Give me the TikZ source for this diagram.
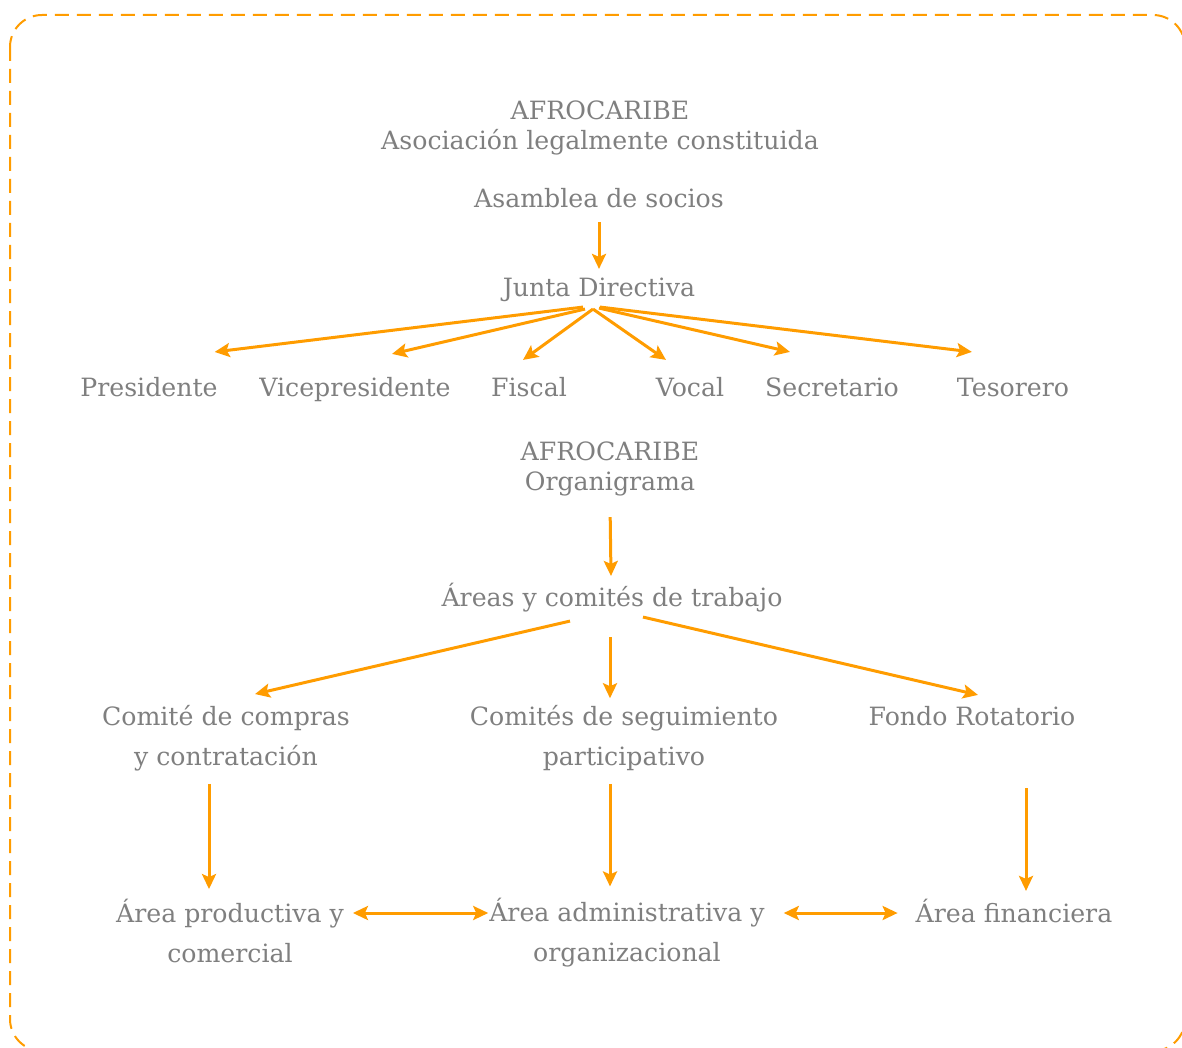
\documentclass[tikz,border=0pt]{standalone}
\usepackage{fontspec}
\setmainfont{DejaVu Serif}
\usepackage{xcolor}
\usetikzlibrary{calc,arrows.meta}
\definecolor{txtgray}{HTML}{7F7F7F}
\definecolor{afroorange}{HTML}{FF9C00}

\begin{document}
\begin{tikzpicture}[x=0.5pt, y=-0.5pt, >={Stealth[length=7.5pt,width=7pt,inset=1.5pt]},
		lbl/.style={text=txtgray, align=center, font=\fontsize{12.6}{15}\selectfont},
		lblone/.style={lbl, text height=10pt, text depth=3pt},
		lbltwo/.style={lbl, font=\fontsize{12.6}{20}\selectfont},
		arr/.style={afroorange, line width=1.5pt, ->},
		dblarr/.style={afroorange, line width=1.5pt, <->}]
		\useasboundingbox (0,0) rectangle (1182,1048);
		% Frame
		\draw[afroorange, line width=1pt, dash pattern=on 7pt off 4pt, rounded corners=16pt] (10,15) rectangle (1185,1051);
		
		% Top block
		\node[lbl] (title) at (600,128) {AFROCARIBE\\Asociación legalmente constituida};
		\node[lblone] (asam) at (599,200) {Asamblea de socios};
		\node[lblone] (junta) at (599,289) {Junta Directiva};
		\node[lblone] (pres) at (149,389) {Presidente};
		\node[lblone] (vice) at (355,389) {Vicepresidente};
		\node[lblone] (fisc) at (529,389) {Fiscal};
		\node[lblone] (voc) at (690,389) {Vocal};
		\node[lblone] (sec) at (832,389) {Secretario};
		\node[lblone] (tes) at (1013,389) {Tesorero};
		
		\draw[arr, shorten <=1pt] (asam) -- (junta);
		\draw[arr] ($(junta.south)+(-16,-2)$) -- ($(pres.north east)+(-10,-17)$);
		\draw[arr] ($(junta.south)+(-14,0)$) -- ($(vice.north)+(37,-15)$);
		\draw[arr] ($(junta.south)+(-6,0)$) -- ($(fisc.north)+(-6,-9)$);
		\draw[arr] ($(junta.south)+(-6,0)$) -- ($(voc.north)+(-24,-9)$);
		\draw[arr] ($(junta.south)+(0,-1)$) -- ($(sec.north)+(-42,-17)$);
		\draw[arr] ($(junta.south)+(1,-2)$) -- ($(tes.north west)+(22,-17)$);
		
		% Organigrama
		\node[lbl] (org) at (610,469) {AFROCARIBE\\Organigrama};
		\node[lblone] (areas) at (612,599) {Áreas y comités de trabajo};
		\node[lbltwo] (compras) at (226,738) {Comité de compras\\y contratación};
		\node[lbltwo] (segui) at (624,738) {Comités de seguimiento\\participativo};
		\node[lblone] (fondo) at (972,718) {Fondo Rotatorio};
		\node[lbltwo] (prod) at (230,931) {Área productiva y\\comercial};
		\node[lbltwo] (admin) at (627,933) {Área administrativa y\\organizacional};
		\node[lblone] (fin) at (1014,915) {Área financiera};
		\coordinate (dbl) at ([yshift=9pt]prod.east);
		
		\draw[arr, shorten <=7pt] (org.south) -- ($(areas.north)+(-1,-3)$);
		\draw[arr] ($(areas.south)+(-42,2)$) -- ($(compras.north)+(29,-4)$);
		\draw[arr] ($(areas.south)+(-2,18)$) -- ($(segui.north)+(-14,0)$);
		\draw[arr] ($(areas.south)+(31,-2)$) -- ($(fondo.north)+(6,-3)$);
		\draw[arr] ($(compras.south)+(-17,6)$) -- ($(prod.north)+(-21,-3)$);
		\draw[arr] ($(segui.south)+(-14,6)$) -- ($(admin.north)+(-17,-5)$);
		\draw[arr] ($(fondo.south)+(54,50)$) -- ($(fin.north)+(12,-4)$);
		\draw[dblarr, shorten <=1pt, shorten >=-3pt] (dbl) -- (dbl -| admin.west);
		\draw[dblarr, shorten <=6pt, shorten >=5.5pt] (dbl -| admin.east) -- (dbl -| fin.west);
	\end{tikzpicture}
\end{document}
